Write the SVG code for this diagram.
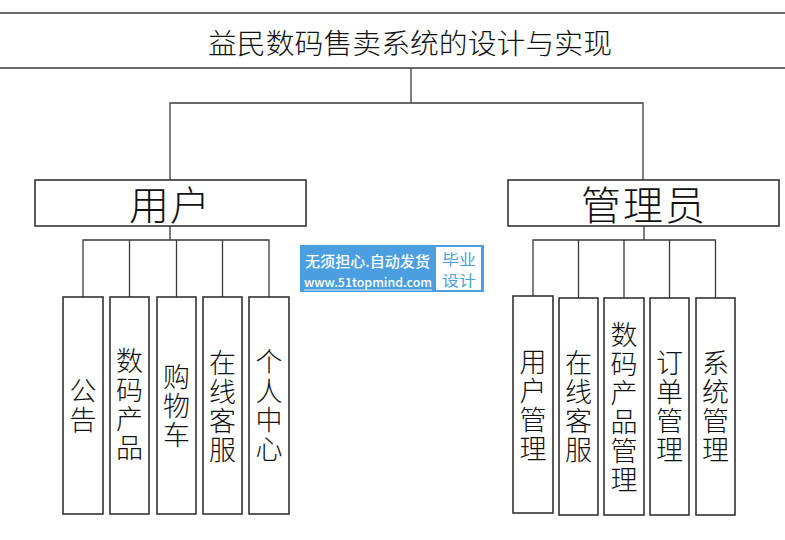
<svg xmlns="http://www.w3.org/2000/svg" width="785" height="540" viewBox="0 0 785 540">
<style>
.ln{stroke:#3a3a3a;stroke-width:1.3;fill:none}
.box{fill:#fff;stroke:#333;stroke-width:1.6}
.cjk{font-family:"Noto Sans CJK SC","Noto Sans",sans-serif;font-weight:300;fill:#111}
.v{font-size:27px;text-anchor:middle;writing-mode:vertical-rl;letter-spacing:2px}
.wm{font-family:"Noto Sans CJK SC","Noto Sans",sans-serif}
</style>
<rect width="785" height="540" fill="#fff"/>
<g id="connectors">
<line class="ln" x1="0" y1="13" x2="785" y2="13"/>
<line class="ln" x1="0" y1="68" x2="785" y2="68"/>
<path class="ln" d="M411,68V103M170,180V103H643V180"/>
<path class="ln" d="M170,226V240M83,297V240H269V297M129.5,240V297M176.5,240V297M222.5,240V297"/>
<path class="ln" d="M644,226V240M533,296V240H715.5V298M578.5,240V298M624,240V298M669.5,240V298"/>
</g>
<g id="title">
<text class="cjk" x="410" y="42" font-size="28" text-anchor="middle" dominant-baseline="central" textLength="404" lengthAdjust="spacingAndGlyphs">益民数码售卖系统的设计与实现</text>
</g>
<g id="user">
<rect class="box" x="35" y="180" width="271" height="46"/>
<text class="cjk" x="170" y="203" font-size="40" text-anchor="middle" dominant-baseline="central" letter-spacing="1">用户</text>
</g>
<g id="admin">
<rect class="box" x="508" y="180" width="271" height="46"/>
<text class="cjk" x="644" y="203" font-size="40" text-anchor="middle" dominant-baseline="central" letter-spacing="2">管理员</text>
</g>
<g id="u1"><rect class="box" x="63" y="297" width="40" height="217"/>
<text class="cjk v" x="83" y="406">公告</text></g>
<g id="u2"><rect class="box" x="110" y="297" width="39" height="217"/>
<text class="cjk v" x="129.5" y="405.5">数码产品</text></g>
<g id="u3"><rect class="box" x="157" y="297" width="39" height="217"/>
<text class="cjk v" x="176.5" y="406.5">购物车</text></g>
<g id="u4"><rect class="box" x="203" y="297" width="39" height="217"/>
<text class="cjk v" x="222.5" y="407">在线客服</text></g>
<g id="u5"><rect class="box" x="249" y="297" width="40" height="217"/>
<text class="cjk v" x="269" y="406">个人中心</text></g>
<g id="a1"><rect class="box" x="513" y="296" width="40" height="217"/>
<text class="cjk v" x="533" y="406">用户管理</text></g>
<g id="a2"><rect class="box" x="559" y="298" width="39" height="217"/>
<text class="cjk v" x="578.5" y="407.5">在线客服</text></g>
<g id="a3"><rect class="box" x="604" y="298" width="40" height="217"/>
<text class="cjk v" x="624" y="408" letter-spacing="2.5">数码产品管理</text></g>
<g id="a4"><rect class="box" x="650" y="298" width="39" height="217"/>
<text class="cjk v" x="669.5" y="407">订单管理</text></g>
<g id="a5"><rect class="box" x="696" y="298" width="39" height="217"/>
<text class="cjk v" x="715.5" y="407">系统管理</text></g>
<g id="watermark">
<rect x="300" y="245" width="184" height="47" fill="#4b9fe1"/>
<rect x="436" y="247" width="45" height="43" fill="#fff"/>
<text class="wm" x="305" y="267" font-size="14.5" font-weight="500" fill="#fff" textLength="125" lengthAdjust="spacingAndGlyphs">无须担心.自动发货</text>
<text class="wm" x="304" y="287" font-size="12.5" font-weight="500" fill="#fff" textLength="128" lengthAdjust="spacingAndGlyphs">www.51topmind.com</text>
<line x1="304" y1="290" x2="432" y2="290" stroke="#fff" stroke-width="0.8"/>
<text class="wm" x="459" y="264.5" font-size="14.5" fill="#4b9fe1" text-anchor="middle" textLength="34" lengthAdjust="spacingAndGlyphs">毕业</text>
<text class="wm" x="459" y="285.5" font-size="14.5" fill="#4b9fe1" text-anchor="middle" textLength="34" lengthAdjust="spacingAndGlyphs">设计</text>
</g>
</svg>
